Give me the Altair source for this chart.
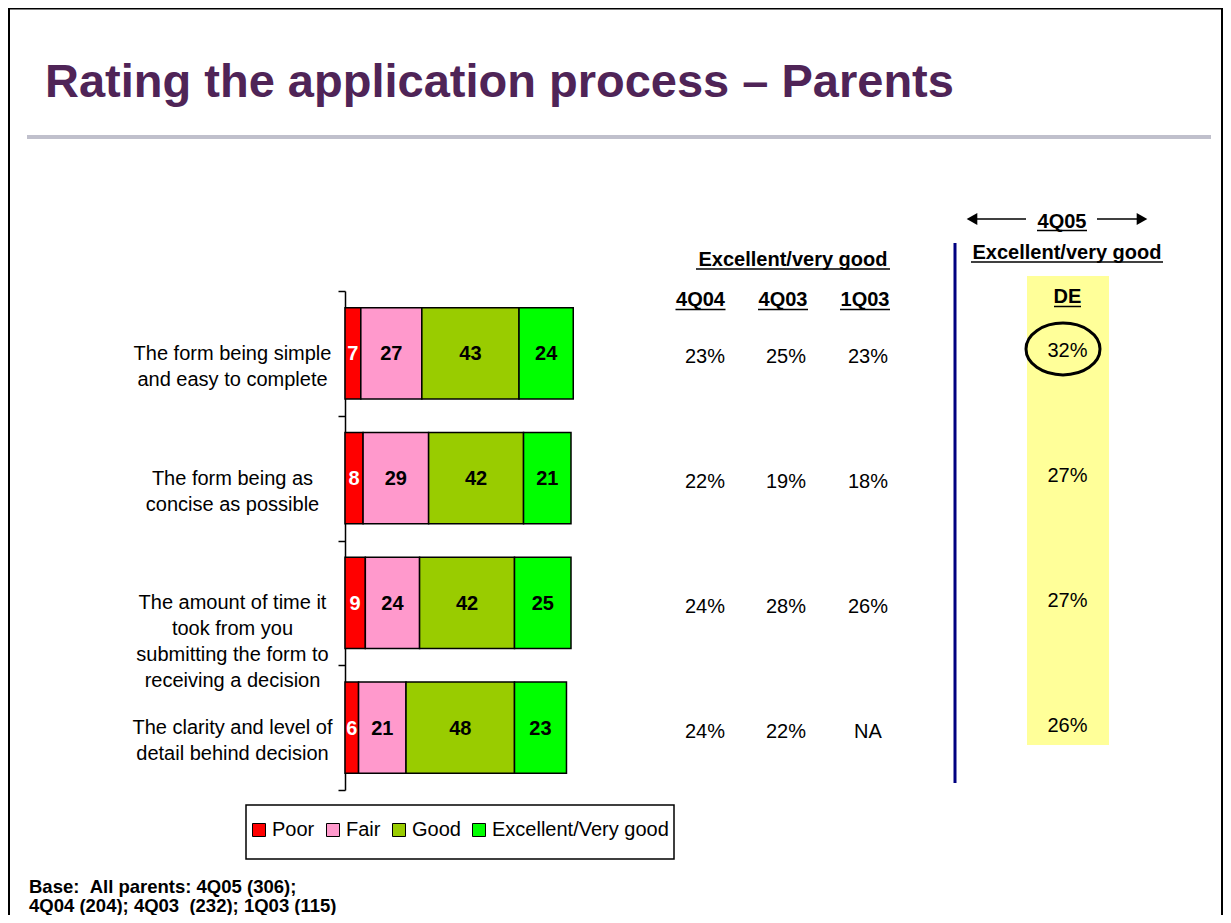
import altair as alt
import pandas as pd

# ---------------- data ----------------
items = [
    "The form being simple|and easy to complete",
    "The form being as|concise as possible",
    "The amount of time it|took from you|submitting the form to|receiving a decision",
    "The clarity and level of|detail behind decision",
]
ratings = ["Poor", "Fair", "Good", "Excellent/Very good"]
rating_colors = ["#FF0000", "#FF99CC", "#99CC00", "#00FF00"]

poor = [7, 8, 9, 6]
fair = [27, 29, 24, 21]
good = [43, 42, 42, 48]
excellent = [24, 21, 25, 23]

periods = ["4Q04", "4Q03", "1Q03"]
ev_4q04 = ["23%", "22%", "24%", "24%"]
ev_4q03 = ["25%", "19%", "28%", "22%"]
ev_1q03 = ["23%", "18%", "26%", "NA"]
de_4q05 = ["32%", "27%", "27%", "26%"]

title_text = "Rating the application process \u2013 Parents"
foot1 = "Base: \u00a0All parents: 4Q05 (306);"
foot2 = "4Q04 (204); 4Q03 \u00a0(232); 1Q03 (115)"

# ---------------- tables ----------------
rows = []
for i, it in enumerate(items):
    for k, (r, vals) in enumerate(zip(ratings, [poor, fair, good, excellent])):
        rows.append({"item": it, "rating": r, "ord": k, "value": vals[i]})
bars_df = pd.DataFrame(rows)

trows = []
for i, it in enumerate(items):
    for p, vals in zip(periods, [ev_4q04, ev_4q03, ev_1q03]):
        trows.append({"item": it, "period": p, "val": vals[i]})
table_df = pd.DataFrame(trows)
de_df = pd.DataFrame({"item": items, "val": de_4q05})

FONT = "Liberation Sans"
W, H = 1215, 907

yscale = alt.Scale(domain=items, range=[283, 782], paddingInner=0, paddingOuter=0)
yaxis = alt.Axis(
    title=None, orient="left", offset=-337, grid=False,
    domainColor="black", domainWidth=1.5, tickColor="black", tickWidth=1.5,
    tickSize=7, tickBand="extent", labelFont=FONT, labelFontSize=20,
    labelColor="black", labelAlign="center", labelBaseline="middle",
    labelPadding=106, labelLineHeight=26, labelLimit=400,
    labelExpr="split(datum.label, '|')",
)
Y = alt.Y("item:N", scale=yscale, axis=yaxis, sort=items)
xscale = alt.Scale(domain=[0, 100], range=[337, 563])

base = alt.Chart(bars_df).transform_stack(
    stack="value", groupby=["item"], as_=["x0", "x1"],
    sort=[alt.SortField("ord", order="ascending")],
)

bars = base.mark_bar(
    height=alt.RelativeBandSize(band=0.73), stroke="black", strokeWidth=1.5
).encode(
    x=alt.X("x0:Q", scale=xscale, axis=None),
    x2="x1:Q",
    y=Y,
    color=alt.Color(
        "rating:N",
        scale=alt.Scale(domain=ratings, range=rating_colors),
        legend=alt.Legend(
            title=None, orient="none", legendX=241, legendY=812,
            direction="horizontal", columns=4, symbolType="square",
            symbolSize=169, symbolStrokeColor="black", symbolStrokeWidth=1,
            symbolOpacity=1, labelFont=FONT, labelFontSize=20,
            labelColor="black", labelOffset=3, columnPadding=8, padding=0,
            labelLimit=400,
        ),
    ),
    order=alt.Order("ord:Q"),
)

bar_text = base.transform_calculate(mid="(datum.x0 + datum.x1) / 2").mark_text(
    font=FONT, fontSize=20, fontWeight="bold", baseline="middle", dy=1
).encode(
    x=alt.X("mid:Q", scale=xscale, axis=None),
    y=Y,
    text="value:Q",
    color=alt.when(alt.datum.rating == "Poor")
    .then(alt.value("white"))
    .otherwise(alt.value("black")),
)

col_x = {"4Q04": 697, "4Q03": 778, "1Q03": 860}
head_x = {"4Q04": 692.5, "4Q03": 775, "1Q03": 857}
table_layers = []
for p in periods:
    table_layers.append(
        alt.Chart(table_df).transform_filter(alt.datum.period == p)
        .mark_text(font=FONT, fontSize=20, baseline="middle", dy=4, color="black")
        .encode(x=alt.value(col_x[p]), y=Y, text="val:N")
    )

de_text = alt.Chart(de_df).mark_text(
    font=FONT, fontSize=20, baseline="middle", dy=-2, color="black"
).encode(x=alt.value(1059.5), y=Y, text="val:N")

highlight = alt.Chart(de_df.iloc[[0]]).mark_point(
    shape="M-1,0A1,0.7,0,1,0,1,0A1,0.7,0,1,0,-1,0Z",
    size=5476, filled=False, stroke="black", strokeWidth=3, opacity=1,
).encode(x=alt.value(1055), y=Y, yOffset=alt.value(58))

one = pd.DataFrame({"k": [0]})


def label(txt, x, y, size=20, bold=True, align="center", color="black"):
    return alt.Chart(one).mark_text(
        text=txt, font=FONT, fontSize=size,
        fontWeight="bold" if bold else "normal", align=align,
        baseline="alphabetic", color=color,
    ).encode(x=alt.value(x), y=alt.value(y))


def hline(x1, x2, y, color="black", w=1.5):
    return alt.Chart(one).mark_rule(color=color, strokeWidth=w).encode(
        x=alt.value(x1), x2=alt.value(x2), y=alt.value(y))


def vline(x, y1, y2, color="black", w=1.5):
    return alt.Chart(one).mark_rule(color=color, strokeWidth=w).encode(
        x=alt.value(x), y=alt.value(y1), y2=alt.value(y2))


def box(x1, x2, y1, y2, fill, stroke=None):
    kw = dict(fill=fill)
    if stroke:
        kw.update(stroke=stroke, strokeWidth=1.5)
    return alt.Chart(one).mark_rect(**kw).encode(
        x=alt.value(x1), x2=alt.value(x2), y=alt.value(y1), y2=alt.value(y2))


deco = [
    # frame
    hline(0, W, 0.5, w=2), vline(1, 0, H, w=2), vline(W - 1, 0, H, w=2),
    # title + rule
    label(title_text, 37, 89, size=47, align="left", color="#4F2457"),
    hline(19, 1203, 129, color="#C0C0CC", w=4),
    # yellow band
    box(1019, 1101, 268, 737, "#FFFF99"),
    # legend frame
    box(238, 666, 797, 851, "white", stroke="black"),
    # left table headers
    label("Excellent/very good", 785, 258), hline(688, 882, 261),
    label("4Q04", head_x["4Q04"], 298), hline(667.5, 717.5, 301.5),
    label("4Q03", head_x["4Q03"], 298), hline(750, 800, 301.5),
    label("1Q03", head_x["1Q03"], 298), hline(832, 882, 301.5),
    # divider
    vline(947, 235, 775, color="#000080", w=3),
    # right headers
    label("4Q05", 1054, 220), hline(1029, 1079, 222.5),
    hline(966, 1018, 211), hline(1089, 1132, 211),
    label("Excellent/very good", 1059, 251), hline(963, 1155, 254),
    label("DE", 1059.5, 295), hline(1046, 1073, 298.5),
    # footnote
    label(foot1, 21, 885, size=18.5, align="left"),
    label(foot2, 21, 904, size=18.5, align="left"),
]

arrows = [
    alt.Chart(one).mark_point(shape="triangle-left", filled=True, size=150,
                              color="black", opacity=1)
    .encode(x=alt.value(964), y=alt.value(211)),
    alt.Chart(one).mark_point(shape="triangle-right", filled=True, size=150,
                              color="black", opacity=1)
    .encode(x=alt.value(1134), y=alt.value(211)),
]

chart = alt.layer(
    *deco[:7], bars, bar_text, *table_layers, de_text, highlight,
    *deco[7:], *arrows,
).properties(
    width=W, height=H, padding=0,
    autosize=alt.AutoSizeParams(type="none"),
).configure_view(stroke=None)

chart.save("out.html", embed_options={"renderer": "svg", "actions": False})
